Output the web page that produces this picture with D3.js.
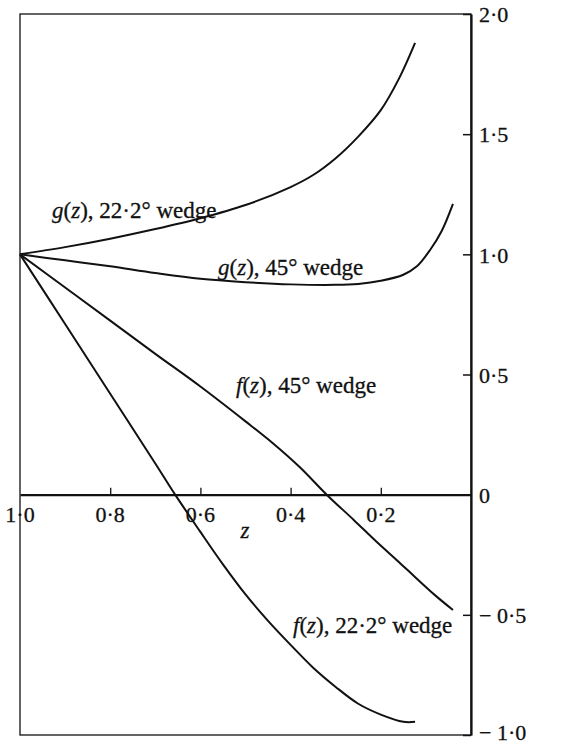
<!DOCTYPE html>
<html>
<head>
<meta charset="utf-8">
<script src="https://cdn.jsdelivr.net/npm/d3@7"></script>
<style>
  body { margin: 0; background: #fff; }
  text { font-family: "Liberation Serif", "DejaVu Serif", serif; fill: #111; stroke: #111; stroke-width: 0.3; }
</style>
</head>
<body>
<div class="canvas"></div>
<script>
// values
const zG22 = [1.0, 0.9, 0.8, 0.7, 0.6, 0.5, 0.4, 0.35, 0.3, 0.25, 0.2, 0.16, 0.124];
const gWedge22 = [1.0, 1.03, 1.065, 1.105, 1.15, 1.205, 1.28, 1.33, 1.40, 1.49, 1.60, 1.73, 1.88];

const zG45 = [1.0, 0.9, 0.8, 0.7, 0.6, 0.5, 0.4, 0.3, 0.25, 0.2, 0.15, 0.12, 0.09, 0.065, 0.04];
const gWedge45 = [1.0, 0.975, 0.95, 0.922, 0.898, 0.884, 0.875, 0.873, 0.877, 0.89, 0.915, 0.95, 1.02, 1.097, 1.21];

const zF45 = [1.0, 0.9, 0.8, 0.7, 0.6, 0.5, 0.44, 0.38, 0.32, 0.26, 0.21, 0.16, 0.12, 0.08, 0.04];
const fWedge45 = [1.0, 0.862, 0.724, 0.586, 0.45, 0.305, 0.215, 0.115, 0.0, -0.105, -0.195, -0.28, -0.35, -0.418, -0.48];

const zF22 = [1.0, 0.9, 0.8, 0.7, 0.656, 0.6, 0.55, 0.5, 0.45, 0.4, 0.35, 0.3, 0.25, 0.2, 0.15, 0.124];
const fWedge22 = [1.0, 0.71, 0.42, 0.13, 0.0, -0.155, -0.29, -0.415, -0.525, -0.625, -0.72, -0.80, -0.87, -0.915, -0.945, -0.945];

const xTicks = [0.8, 0.6, 0.4, 0.2];
const xTickLabels = ["1·0", "0·8", "0·6", "0·4", "0·2"];
const yTicks = [2, 1.5, 1, 0.5, 0, -0.5, -1];
const yTickLabels = ["2·0", "1·5", "1·0", "0·5", "0", "− 0·5", "− 1·0"];

const dims = { w: 563, h: 744 };
const box = { left: 20, right: 471, top: 14, bottom: 735 };

const svg = d3.select(".canvas")
  .append("svg")
  .attr("width", dims.w)
  .attr("height", dims.h);

const x = d3.scaleLinear().domain([1, 0]).range([box.left, box.right]);
const y = d3.scaleLinear().domain([-1, 2]).range([box.bottom, box.top]);

// frame
svg.append("rect")
  .attr("x", box.left).attr("y", box.top)
  .attr("width", box.right - box.left).attr("height", box.bottom - box.top)
  .attr("fill", "none").attr("stroke", "#111").attr("stroke-width", 1.3);

// right axis, ticks pointing inward
const yAxis = d3.axisRight(y)
  .tickValues(yTicks)
  .tickSizeInner(-8)
  .tickSizeOuter(0)
  .tickFormat("");

const yg = svg.append("g")
  .attr("transform", `translate(${box.right},0)`)
  .call(yAxis);
yg.select(".domain").attr("stroke", "#111").attr("stroke-width", 2.2);
yg.selectAll(".tick line").attr("stroke", "#111").attr("stroke-width", 1.5);

yg.selectAll(".tick").append("text")
  .attr("x", 8)
  .attr("dy", (d, i) => i === yTicks.length - 1 ? "0.2em" : "0.35em")
  .attr("text-anchor", "start")
  .attr("font-size", 22)
  .text((d, i) => yTickLabels[i]);

// zero line with ticks up
const xAxis = d3.axisTop(x)
  .tickValues(xTicks)
  .tickSizeInner(7)
  .tickSizeOuter(0)
  .tickFormat("");

const xg = svg.append("g")
  .attr("transform", `translate(0,${y(0)})`)
  .call(xAxis);
xg.select(".domain").attr("stroke", "#111").attr("stroke-width", 2.2);
xg.selectAll(".tick line").attr("stroke", "#111").attr("stroke-width", 1.3);

svg.append("g")
  .selectAll("text")
  .data([1, ...xTicks])
  .enter()
  .append("text")
  .attr("x", d => x(d))
  .attr("y", y(0) + 27)
  .attr("text-anchor", "middle")
  .attr("font-size", 22)
  .text((d, i) => xTickLabels[i]);

svg.append("text")
  .attr("x", 245).attr("y", 538)
  .attr("text-anchor", "middle")
  .attr("font-size", 23)
  .attr("font-style", "italic")
  .text("z");

// curves
const line = d3.line()
  .x(d => x(d[0]))
  .y(d => y(d[1]))
  .curve(d3.curveCatmullRom.alpha(0.5));

const series = [
  [zG22, gWedge22],
  [zG45, gWedge45],
  [zF45, fWedge45],
  [zF22, fWedge22]
];

svg.append("g")
  .selectAll("path")
  .data(series.map(s => s[0].map((z, i) => [z, s[1][i]])))
  .enter()
  .append("path")
  .attr("d", line)
  .attr("fill", "none")
  .attr("stroke", "#111")
  .attr("stroke-width", 2);

// curve labels
const labels = [
  { fn: "g", rest: ", 22·2° wedge", lx: 52, ly: 218 },
  { fn: "g", rest: ", 45° wedge", lx: 218, ly: 275 },
  { fn: "f", rest: ", 45° wedge", lx: 236, ly: 393 },
  { fn: "f", rest: ", 22·2° wedge", lx: 293, ly: 633 }
];

const lab = svg.append("g")
  .selectAll("text")
  .data(labels)
  .enter()
  .append("text")
  .attr("x", d => d.lx)
  .attr("y", d => d.ly)
  .attr("font-size", 23);

lab.append("tspan").attr("font-style", "italic").text(d => d.fn);
lab.append("tspan").text("(");
lab.append("tspan").attr("font-style", "italic").text("z");
lab.append("tspan").text(d => ")" + d.rest);
</script>
</body>
</html>
